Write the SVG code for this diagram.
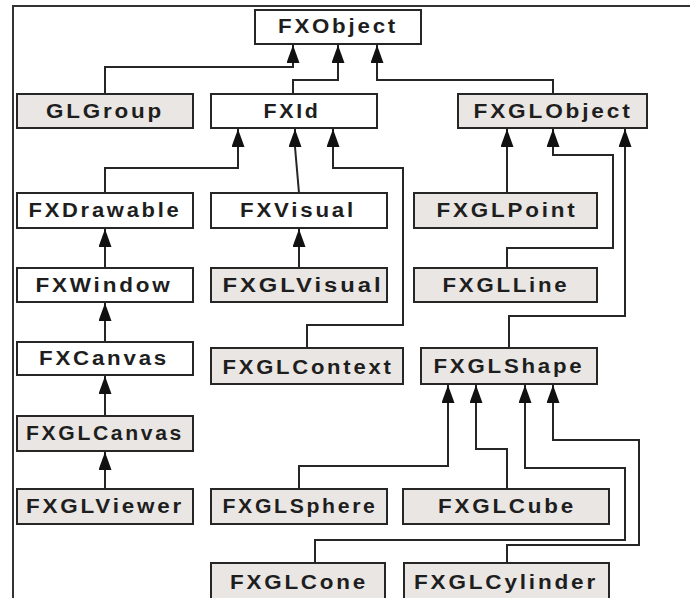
<svg xmlns="http://www.w3.org/2000/svg" width="690" height="598" viewBox="0 0 690 598">
  <style>
    .box { stroke: #262626; stroke-width: 2; }
    .plain { fill: #ffffff; }
    .gl { fill: #e9e6e3; }
    .lbl { font-family: "Liberation Sans", Arial, sans-serif; font-weight: bold; font-size: 20px; letter-spacing: 2.5px; fill: #1e1e1e; text-anchor: middle; }
    .wire { fill: none; stroke: #262626; stroke-width: 2; marker-end: url(#head); }
  </style>
  <defs>
    <marker id="head" markerUnits="userSpaceOnUse" markerWidth="18" markerHeight="13" refX="18" refY="6.5" orient="auto">
      <path d="M0,0 L18,6.5 L0,13 Z" fill="#111111"/>
    </marker>
  </defs>

  <rect width="690" height="598" fill="#ffffff"/>

  <!-- outer frame: top and left rules -->
  <path d="M13,598 V6 H690" fill="none" stroke="#333333" stroke-width="2"/>

  <!-- inheritance connectors, child to parent -->
  <g id="connectors">
    <path class="wire" d="M105,94 V67 H293 V45"/>
    <path class="wire" d="M293,94 V80 H338 V45"/>
    <path class="wire" d="M553,94 V80 H377 V45"/>
    <path class="wire" d="M105,193 V168 H238 V129"/>
    <path class="wire" d="M299,193 L295,147 V129"/>
    <path class="wire" d="M307,348 V325 H403 V168 H333 V129"/>
    <path class="wire" d="M507,193 V129"/>
    <path class="wire" d="M507,268 V248 H613 V155 H553 V129"/>
    <path class="wire" d="M509,348 V316 H625 V129"/>
    <path class="wire" d="M105,268 V229"/>
    <path class="wire" d="M105,342 V303"/>
    <path class="wire" d="M105,416 V376"/>
    <path class="wire" d="M105,489 V452"/>
    <path class="wire" d="M299,268 V229"/>
    <path class="wire" d="M299,489 V466 H448 V385"/>
    <path class="wire" d="M507,489 V449 H476 V385"/>
    <path class="wire" d="M315,563 V540 H625 V468 H525 V385"/>
    <path class="wire" d="M507,563 V545 H639 V440 H553 V385"/>
  </g>

  <g id="FXObject">
    <rect class="box plain" x="255" y="10" width="166" height="34"/>
    <text class="lbl" x="338" y="33" textLength="120" lengthAdjust="spacingAndGlyphs">FXObject</text>
  </g>
  <g id="GLGroup">
    <rect class="box gl" x="17" y="94" width="176" height="34"/>
    <text class="lbl" x="105" y="118" textLength="118" lengthAdjust="spacingAndGlyphs">GLGroup</text>
  </g>
  <g id="FXId">
    <rect class="box plain" x="211" y="94" width="166" height="34"/>
    <text class="lbl" x="292" y="118" textLength="57" lengthAdjust="spacingAndGlyphs">FXId</text>
  </g>
  <g id="FXGLObject">
    <rect class="box gl" x="458" y="94" width="189" height="34"/>
    <text class="lbl" x="553" y="118" textLength="159" lengthAdjust="spacingAndGlyphs">FXGLObject</text>
  </g>
  <g id="FXDrawable">
    <rect class="box plain" x="17" y="193" width="176" height="35"/>
    <text class="lbl" x="105" y="217" textLength="153" lengthAdjust="spacingAndGlyphs">FXDrawable</text>
  </g>
  <g id="FXVisual">
    <rect class="box plain" x="211" y="193" width="176" height="35"/>
    <text class="lbl" x="298" y="217" textLength="116" lengthAdjust="spacingAndGlyphs">FXVisual</text>
  </g>
  <g id="FXGLPoint">
    <rect class="box gl" x="414" y="193" width="183" height="35"/>
    <text class="lbl" x="507" y="217" textLength="141" lengthAdjust="spacingAndGlyphs">FXGLPoint</text>
  </g>
  <g id="FXWindow">
    <rect class="box plain" x="17" y="268" width="176" height="34"/>
    <text class="lbl" x="104" y="292" textLength="137" lengthAdjust="spacingAndGlyphs">FXWindow</text>
  </g>
  <g id="FXGLVisual">
    <rect class="box gl" x="211" y="268" width="176" height="34"/>
    <text class="lbl" x="303" y="292" textLength="161" lengthAdjust="spacingAndGlyphs">FXGLVisual</text>
  </g>
  <g id="FXGLLine">
    <rect class="box gl" x="414" y="268" width="183" height="34"/>
    <text class="lbl" x="506" y="292" textLength="127" lengthAdjust="spacingAndGlyphs">FXGLLine</text>
  </g>
  <g id="FXCanvas">
    <rect class="box plain" x="17" y="342" width="176" height="33"/>
    <text class="lbl" x="104" y="365" textLength="130" lengthAdjust="spacingAndGlyphs">FXCanvas</text>
  </g>
  <g id="FXGLContext">
    <rect class="box gl" x="211" y="348" width="192" height="36"/>
    <text class="lbl" x="308" y="374" textLength="171" lengthAdjust="spacingAndGlyphs">FXGLContext</text>
  </g>
  <g id="FXGLShape">
    <rect class="box gl" x="421" y="348" width="176" height="36"/>
    <text class="lbl" x="509" y="373" textLength="151" lengthAdjust="spacingAndGlyphs">FXGLShape</text>
  </g>
  <g id="FXGLCanvas">
    <rect class="box gl" x="17" y="416" width="176" height="35"/>
    <text class="lbl" x="105" y="440" textLength="158" lengthAdjust="spacingAndGlyphs">FXGLCanvas</text>
  </g>
  <g id="FXGLViewer">
    <rect class="box gl" x="17" y="489" width="176" height="35"/>
    <text class="lbl" x="105" y="513" textLength="158" lengthAdjust="spacingAndGlyphs">FXGLViewer</text>
  </g>
  <g id="FXGLSphere">
    <rect class="box gl" x="211" y="489" width="176" height="35"/>
    <text class="lbl" x="300" y="513" textLength="155" lengthAdjust="spacingAndGlyphs">FXGLSphere</text>
  </g>
  <g id="FXGLCube">
    <rect class="box gl" x="403" y="489" width="206" height="35"/>
    <text class="lbl" x="507" y="513" textLength="138" lengthAdjust="spacingAndGlyphs">FXGLCube</text>
  </g>
  <g id="FXGLCone">
    <rect class="box gl" x="211" y="563" width="174" height="40"/>
    <text class="lbl" x="299" y="589" textLength="138" lengthAdjust="spacingAndGlyphs">FXGLCone</text>
  </g>
  <g id="FXGLCylinder">
    <rect class="box gl" x="404" y="563" width="205" height="40"/>
    <text class="lbl" x="506" y="589" textLength="184" lengthAdjust="spacingAndGlyphs">FXGLCylinder</text>
  </g>
</svg>
